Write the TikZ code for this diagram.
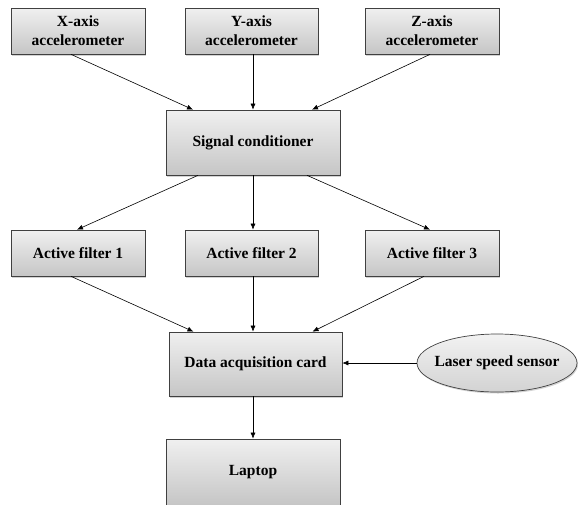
\documentclass[tikz,border=0pt]{standalone}
\usepackage{fontspec}
\setmainfont{Liberation Serif}
\usetikzlibrary{shapes.geometric,shadows,arrows.meta}
\begin{document}
\begin{tikzpicture}[x=1pt,y=-1pt,
  blk/.style={draw=black!75, line width=0.7pt, top color=gray!12, bottom color=gray!45,
    drop shadow={shadow xshift=1pt, shadow yshift=-1.5pt, opacity=0.35},
    font=\bfseries\fontsize{15.5}{19}\selectfont, align=center, inner sep=0pt},
  ell/.style={draw=black!75, line width=0.7pt, ellipse, top color=gray!10, bottom color=gray!35,
    drop shadow={shadow xshift=1pt, shadow yshift=-1.5pt, opacity=0.35},
    font=\bfseries\fontsize{15.5}{19}\selectfont, inner xsep=-12pt, inner ysep=0pt},
  arr/.style={-{Latex[length=6pt,width=5pt]}, line width=0.6pt, black}]
\useasboundingbox (0,0) rectangle (578,504);
\node[blk, minimum width=134pt, minimum height=46pt] (x) at (78,31) {X-axis\\accelerometer};
\node[blk, minimum width=133pt, minimum height=46pt] (y) at (251.5,31) {Y-axis\\accelerometer};
\node[blk, minimum width=134pt, minimum height=46pt] (z) at (432,31) {Z-axis\\accelerometer};
\node[blk, minimum width=174pt, minimum height=65pt] (sc) at (253,142.5) {Signal conditioner};
\node[blk, minimum width=134pt, minimum height=46pt] (f1) at (78,253) {Active filter 1};
\node[blk, minimum width=133pt, minimum height=46pt] (f2) at (251.5,253) {Active filter 2};
\node[blk, minimum width=134pt, minimum height=46pt] (f3) at (432,253) {Active filter 3};
\node[blk, minimum width=173pt, minimum height=64pt] (daq) at (255.5,364) {Data acquisition card};
\node[ell, minimum width=160pt, minimum height=58pt] (ls) at (497,363) {Laser speed sensor};
\node[blk, minimum width=174pt, minimum height=66pt] (lap) at (253,472) {Laptop};
\draw[arr] ([xshift=-7pt]x.south) -- ([xshift=-60pt]sc.north);
\draw[arr] (y.south -| sc.north) -- (sc.north);
\draw[arr] ([xshift=-2pt]z.south) -- ([xshift=59pt]sc.north);
\draw[arr] ([xshift=-55pt]sc.south) -- ([xshift=-1pt]f1.north);
\draw[arr] (sc.south) -- (sc.south |- f2.north);
\draw[arr] ([xshift=54pt]sc.south) -- ([xshift=-2pt]f3.north);
\draw[arr] ([xshift=-7pt]f1.south) -- ([xshift=-62pt]daq.north);
\draw[arr] (sc.south |- f2.south) -- (sc.south |- daq.north);
\draw[arr] ([xshift=-8pt]f3.south) -- ([xshift=57pt]daq.north);
\draw[arr] (ls.west) -- (daq.east |- ls.west);
\draw[arr] (sc.south |- daq.south) -- (lap.north);
\end{tikzpicture}
\end{document}
